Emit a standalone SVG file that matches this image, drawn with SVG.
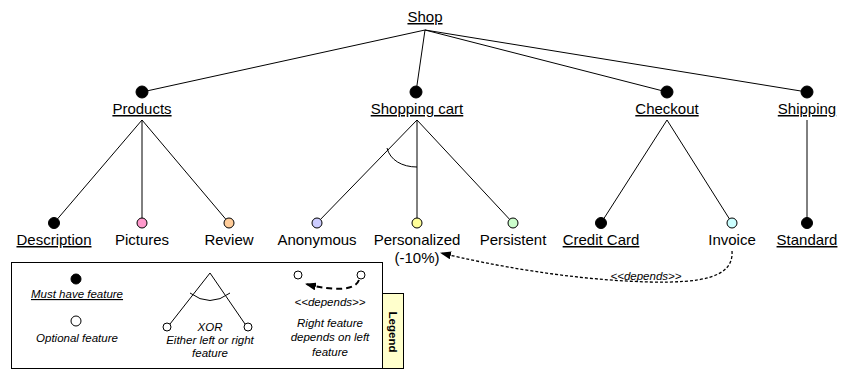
<svg xmlns="http://www.w3.org/2000/svg" width="842" height="371" viewBox="0 0 842 371">
  <style>
    text { font-family: "Liberation Sans", Arial, sans-serif; fill: #000; }
    .lbl { font-size: 15px; text-anchor: middle; }
    .u { text-decoration: underline; }
    .small { font-size: 11.5px; font-style: italic; text-anchor: middle; }
    .edge { stroke: #000; stroke-width: 1; fill: none; }
    .must { fill: #000; stroke: #000; stroke-width: 1; }
    .opt { stroke: #000; stroke-width: 1; }
    .dep { stroke: #000; stroke-width: 1.3; fill: none; stroke-dasharray: 3 2; }
    .dep-big { stroke: #000; stroke-width: 2; fill: none; stroke-dasharray: 6 4; }
  </style>
  <defs>
    <marker id="head" markerUnits="userSpaceOnUse" markerWidth="11" markerHeight="8" refX="10" refY="4" orient="auto">
      <path d="M0,0 L11,4 L0,8 z" fill="#000"/>
    </marker>
  </defs>
  <rect width="842" height="371" fill="#fff"/>

  <!-- tree connectors -->
  <g id="connectors">
    <path class="edge" d="M425,30 L142,92 M425,30 L416,92 M425,30 L667,92 M425,30 L807,92"/>
    <path class="edge" d="M142,120 L54,223 M142,120 L142,223 M142,120 L229,223"/>
    <path class="edge" d="M417,120 L317,223 M417,120 L417,223 M417,120 L513,223"/>
    <path class="edge" d="M387,148 C390,160 402,167 417,167"/>
    <path class="edge" d="M667,120 L601,223 M667,120 L732,223"/>
    <path class="edge" d="M807,120 L807,223"/>
    <path class="dep" d="M732,251 C734,278 700,283 650,282 C570,280 490,265 441,253" marker-end="url(#head)"/>
    <text x="646" y="280" style="font-size:11.5px;font-style:italic;text-anchor:middle">&lt;&lt;depends&gt;&gt;</text>
  </g>

  <g id="shop"><text class="lbl u" x="425" y="22">Shop</text></g>

  <g id="products">
    <circle class="must" cx="142" cy="92" r="6"/>
    <text class="lbl u" x="142" y="114">Products</text>
  </g>
  <g id="shopping-cart">
    <circle class="must" cx="416" cy="92" r="6"/>
    <text class="lbl u" x="417" y="114">Shopping cart</text>
  </g>
  <g id="checkout">
    <circle class="must" cx="667" cy="92" r="6"/>
    <text class="lbl u" x="667" y="114">Checkout</text>
  </g>
  <g id="shipping">
    <circle class="must" cx="807" cy="92" r="6"/>
    <text class="lbl u" x="807" y="114">Shipping</text>
  </g>

  <g id="description">
    <circle class="must" cx="54" cy="223" r="5.5"/>
    <text class="lbl u" x="54" y="245">Description</text>
  </g>
  <g id="pictures">
    <circle class="opt" cx="142" cy="223" r="5" fill="#ff99cc"/>
    <text class="lbl" x="142" y="245">Pictures</text>
  </g>
  <g id="review">
    <circle class="opt" cx="229" cy="223" r="5" fill="#ffcc99"/>
    <text class="lbl" x="229" y="245">Review</text>
  </g>
  <g id="anonymous">
    <circle class="opt" cx="317" cy="223" r="5" fill="#ccccff"/>
    <text class="lbl" x="317" y="245">Anonymous</text>
  </g>
  <g id="personalized">
    <circle class="opt" cx="417" cy="223" r="5" fill="#ffff99"/>
    <text class="lbl" x="417" y="245">Personalized</text>
    <text class="lbl" x="417" y="263">(-10%)</text>
  </g>
  <g id="persistent">
    <circle class="opt" cx="513" cy="223" r="5" fill="#ccffcc"/>
    <text class="lbl" x="513" y="245">Persistent</text>
  </g>
  <g id="credit-card">
    <circle class="must" cx="601" cy="223" r="5.5"/>
    <text class="lbl u" x="601" y="245">Credit Card</text>
  </g>
  <g id="invoice">
    <circle class="opt" cx="732" cy="223" r="5" fill="#ccffff"/>
    <text class="lbl" x="732" y="245">Invoice</text>
  </g>
  <g id="standard">
    <circle class="must" cx="807" cy="223" r="5.5"/>
    <text class="lbl u" x="807" y="245">Standard</text>
  </g>

  <!-- legend -->
  <g id="legend">
    <rect x="11.5" y="262.5" width="371" height="106" fill="#fff" stroke="#000" stroke-width="1"/>
    <rect x="382.5" y="293.5" width="21" height="75" fill="#ffffcc" stroke="#000" stroke-width="1"/>
    <text x="0" y="0" transform="translate(389,332) rotate(90)" style="font-size:11.5px;font-weight:bold;text-anchor:middle">Legend</text>

    <circle class="must" cx="76" cy="279" r="5"/>
    <text class="small u" x="77" y="298">Must have feature</text>
    <circle class="opt" cx="76" cy="321" r="5" fill="#fff"/>
    <text class="small" x="77" y="342">Optional feature</text>

    <path class="edge" d="M210,273 L170,324 M210,273 L245,324"/>
    <path class="edge" d="M190,293 Q210,308 230,293"/>
    <circle class="opt" cx="167" cy="327" r="4" fill="#fff"/>
    <circle class="opt" cx="248" cy="327" r="4" fill="#fff"/>
    <text class="small" x="210" y="331">XOR</text>
    <text class="small" x="210" y="343.5">Either left or right</text>
    <text class="small" x="210" y="356.5">feature</text>

    <circle class="opt" cx="298" cy="275" r="4" fill="#fff"/>
    <circle class="opt" cx="361" cy="275" r="4" fill="#fff"/>
    <path class="dep-big" d="M359,280 C355,291 333,291 306,284" marker-end="url(#head)"/>
    <text class="small" x="330" y="306">&lt;&lt;depends&gt;&gt;</text>
    <text class="small" x="330" y="327">Right feature</text>
    <text class="small" x="330" y="341">depends on left</text>
    <text class="small" x="330" y="356">feature</text>
  </g>
</svg>
